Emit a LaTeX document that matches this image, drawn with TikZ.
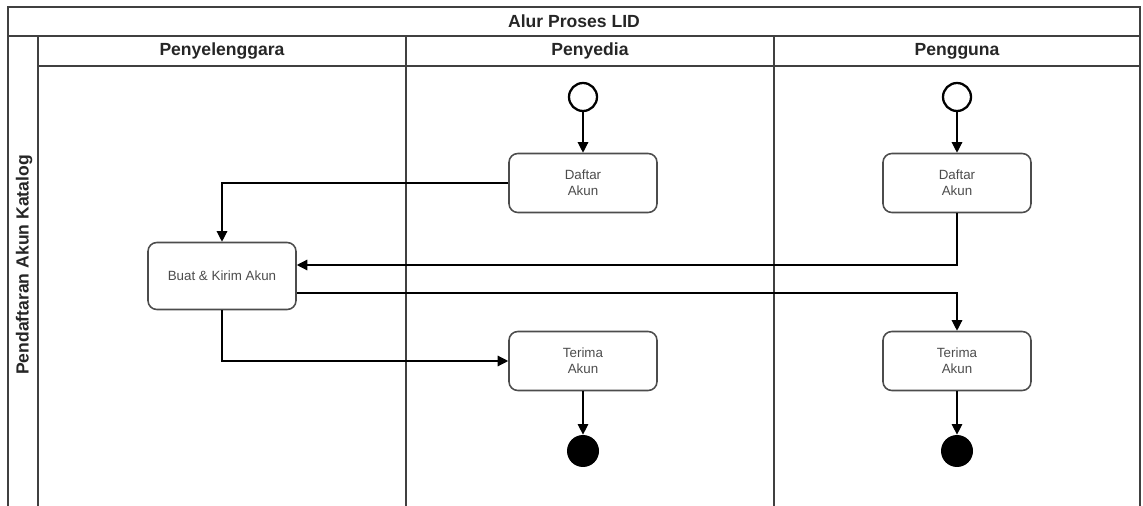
\documentclass[tikz,border=0pt]{standalone}
\usepackage{fontspec}
\setmainfont{Liberation Sans}
\usetikzlibrary{arrows.meta}

\begin{document}
\begin{tikzpicture}[
  x=0.02cm, y=-0.02cm,
  font=\fontsize{7.6}{9}\selectfont,
  arr/.style={-{Triangle[length=6pt,width=6pt]}, line width=0.7pt},
  lane/.style={draw=black!75, line width=0.9pt},
  hdr/.style={font=\fontsize{10}{12}\selectfont\bfseries, text=black!85},
  act/.style={
    draw=black!70,
    line width=0.9pt,
    rounded corners=5pt,
    align=center,
    minimum width=2.96cm,
    minimum height=1.18cm,
    text=black!70
  },
  startnode/.style={circle, draw, line width=1.3pt, minimum size=0.56cm, inner sep=0pt},
  stopnode/.style={circle, fill, minimum size=0.64cm, inner sep=0pt}
]
\useasboundingbox (0,0) rectangle (1143,506);

% -------------------------------------------------
% Lane x-positions
% -------------------------------------------------
\def\xA{222}
\def\xB{583}
\def\xC{957}

% -------------------------------------------------
% FRAME AND LANES
% -------------------------------------------------
\draw[lane] (8,506) -- (8,7) -- (1140,7) -- (1140,506);
\draw[lane] (8,36) -- (1140,36);
\draw[lane] (38,66) -- (1140,66);
\draw[lane] (38,36) -- (38,506);
\draw[lane] (406,36) -- (406,506);
\draw[lane] (774,36) -- (774,506);

% -------------------------------------------------
% HEADINGS
% -------------------------------------------------
\node[hdr] (title) at (574,21) {Alur Proses LID};
\node[hdr] (h1) at (\xA,51) {Penyelenggara};
\node[hdr] (h2) at (590,51) {Penyedia};
\node[hdr] (h3) at (\xC,51) {Pengguna};
\node[hdr, rotate=90] (pool) at (24,265) {Pendaftaran Akun Katalog};

% -------------------------------------------------
% ACTIVITIES
% -------------------------------------------------
\node[startnode] (sp) at (\xB,97) {};
\node[startnode] (sg) at (\xC,97) {};

\node[act] (dp) at (\xB,183) {Daftar\\Akun};
\node[act] (dg) at (\xC,183) {Daftar\\Akun};

\node[act, minimum height=1.34cm] (buat) at (\xA,276) {Buat \& Kirim Akun};

\node[act] (tp) at (\xB,361) {Terima\\Akun};
\node[act] (tg) at (\xC,361) {Terima\\Akun};

\node[stopnode] (ep) at (\xB,451) {};
\node[stopnode] (eg) at (\xC,451) {};

% -------------------------------------------------
% ARROWS
% -------------------------------------------------
\draw[arr] (sp) -- (dp);
\draw[arr] (sg) -- (dg);

\draw[arr] (dp.west) -| (buat.north);
\draw[arr] (dg.south) |- ([yshift=0.22cm]buat.east);

\draw[arr] ([yshift=-0.34cm]buat.east) -| (tg.north);
\draw[arr] (buat.south) |- (tp.west);

\draw[arr] (tp) -- (ep);
\draw[arr] (tg) -- (eg);

\end{tikzpicture}
\end{document}
